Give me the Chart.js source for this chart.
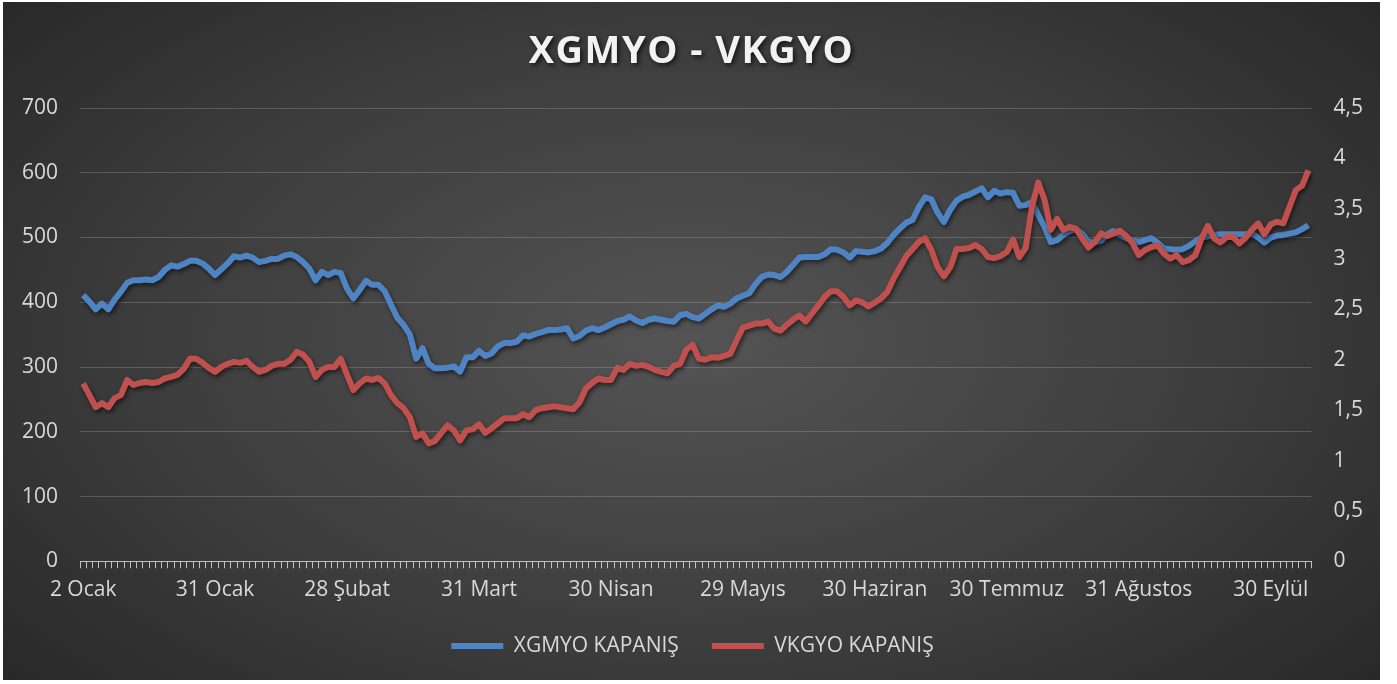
<!DOCTYPE html>
<html>
<head>
<meta charset="utf-8">
<title>XGMYO - VKGYO</title>
<script src="https://cdn.jsdelivr.net/npm/chart.js@4.4.1/dist/chart.umd.min.js"></script>
<style>
    html, body { margin: 0; padding: 0; background: #ffffff; }
    #wrap {
        position: absolute; left: 3px; top: 2px; width: 1377px; height: 678px;
        background: radial-gradient(ellipse 70% 80% at 50% 50%, #545454 0%, #3d3d3d 55%, #262626 100%);
    }
</style>
</head>
<body>
<div id="wrap"><canvas id="chart"></canvas></div>
<script>
const chartTitle = 'XGMYO - VKGYO';

// Axis labels shown under the x axis, one every 21 trading days
const tickLabels = ['2 Ocak', '31 Ocak', '28 Şubat', '31 Mart', '30 Nisan', '29 Mayıs', '30 Haziran', '30 Temmuz', '31 Ağustos', '30 Eylül'];
const labelEvery = 21;

// XGMYO closing values (left axis)
const xgmyo = [
    411, 401, 389, 398, 389, 404, 416, 430, 434, 434, 435, 434, 439, 450, 457, 455, 459, 464, 464, 460,
    452, 442, 451, 460, 471, 469, 472, 469, 462, 464, 467, 467, 472, 474, 470, 462, 452, 434, 447, 442,
    447, 445, 421, 406, 419, 433, 427, 427, 417, 396, 376, 365, 350, 313, 329, 305, 298, 298, 299, 301,
    293, 315, 315, 325, 317, 321, 332, 337, 337, 339, 349, 347, 351, 354, 357, 357, 358, 360, 344, 348,
    356, 360, 357, 361, 366, 371, 373, 378, 372, 368, 373, 375, 373, 371, 370, 380, 382, 377, 375, 382,
    389, 395, 393, 398, 406, 410, 414, 428, 439, 443, 442, 439, 447, 458, 469, 470, 470, 470, 474, 482,
    481, 477, 469, 479, 478, 477, 479, 483, 492, 504, 514, 523, 527, 547, 562, 559, 538, 524, 543, 557,
    563, 566, 571, 576, 562, 572, 568, 570, 569, 549, 550, 555, 535, 517, 493, 496, 504, 510, 513, 506,
    493, 492, 495, 505, 510, 504, 499, 496, 493, 496, 499, 492, 483, 482, 481, 482, 487, 494, 500, 502,
    504, 505, 505, 505, 505, 505, 506, 500, 492, 500, 503, 504, 506, 508, 513, 519
];

// VKGYO closing values (right axis)
const vkgyo = [
    1.765, 1.65, 1.53, 1.57, 1.53, 1.62, 1.65, 1.80, 1.75, 1.77, 1.78, 1.77, 1.78, 1.815, 1.83, 1.85, 1.91, 2.01, 2.01, 1.97,
    1.92, 1.88, 1.93, 1.96, 1.98, 1.97, 1.99, 1.93, 1.88, 1.90, 1.94, 1.96, 1.96, 2.00, 2.08, 2.05, 1.98, 1.83, 1.90, 1.93,
    1.93, 2.01, 1.85, 1.70, 1.765, 1.815, 1.80, 1.82, 1.765, 1.65, 1.57, 1.52, 1.43, 1.235, 1.27, 1.17, 1.195, 1.275, 1.35, 1.30,
    1.20, 1.30, 1.31, 1.36, 1.275, 1.32, 1.37, 1.42, 1.42, 1.42, 1.46, 1.43, 1.50, 1.52, 1.53, 1.54, 1.53, 1.52, 1.51, 1.58,
    1.715, 1.77, 1.815, 1.80, 1.80, 1.92, 1.90, 1.96, 1.94, 1.95, 1.93, 1.90, 1.88, 1.865, 1.94, 1.96, 2.10, 2.15, 2.01, 2.00,
    2.025, 2.02, 2.04, 2.06, 2.195, 2.32, 2.34, 2.36, 2.36, 2.38, 2.31, 2.29, 2.35, 2.40, 2.44, 2.38, 2.46, 2.54, 2.625, 2.68,
    2.68, 2.625, 2.54, 2.59, 2.57, 2.53, 2.57, 2.61, 2.675, 2.81, 2.92, 3.03, 3.10, 3.17, 3.205, 3.09, 2.92, 2.83, 2.92, 3.10,
    3.10, 3.11, 3.14, 3.10, 3.02, 3.01, 3.03, 3.07, 3.195, 3.02, 3.11, 3.52, 3.76, 3.59, 3.29, 3.40, 3.29, 3.32, 3.30, 3.205,
    3.115, 3.17, 3.255, 3.23, 3.255, 3.28, 3.23, 3.16, 3.04, 3.09, 3.12, 3.135, 3.055, 3.005, 3.04, 2.97, 2.99, 3.04, 3.205, 3.33,
    3.205, 3.165, 3.22, 3.22, 3.155, 3.21, 3.29, 3.355, 3.245, 3.345, 3.37, 3.355, 3.52, 3.685, 3.73, 3.88
];

const categories = xgmyo.map((v, i) => (i % labelEvery === 0 ? tickLabels[i / labelEvery] || '' : ''));

const textColor = '#d9d9d9';
Chart.defaults.font.family = "'Open Sans', sans-serif";

// soft drop shadow under the two lines
const lineShadow = {
    id: 'lineShadow',
    beforeDatasetsDraw(chart) {
        const ctx = chart.ctx;
        ctx.save();
        ctx.shadowColor = 'rgba(0, 0, 0, 0.55)';
        ctx.shadowBlur = 4;
        ctx.shadowOffsetX = 1.5;
        ctx.shadowOffsetY = 2.5;
    },
    afterDatasetsDraw(chart) {
        chart.ctx.restore();
    }
};

// title with a shadow, drawn in the space kept free by layout.padding.top
const shadowTitle = {
    id: 'shadowTitle',
    afterDraw(chart) {
        const ctx = chart.ctx;
        ctx.save();
        ctx.font = "bold 38px 'Open Sans', sans-serif";
        if ('letterSpacing' in ctx) ctx.letterSpacing = '1.5px';
        ctx.fillStyle = '#f2f2f2';
        ctx.textAlign = 'center';
        ctx.textBaseline = 'alphabetic';
        ctx.shadowColor = 'rgba(0, 0, 0, 0.7)';
        ctx.shadowBlur = 5;
        ctx.shadowOffsetX = 2;
        ctx.shadowOffsetY = 2;
        ctx.fillText(chartTitle, chart.width / 2, 61);
        ctx.restore();
    }
};

// chart.js keeps tick padding on both sides of the labels, drop the outer one
function trimWidth(scale) {
    scale.width -= scale.options.ticks.padding;
}
function trimHeight(scale) {
    scale.height -= scale.options.ticks.padding;
}

new Chart(document.getElementById('chart'), {
    type: 'line',
    data: {
        labels: categories,
        datasets: [{
            label: 'XGMYO KAPANIŞ',
            data: xgmyo,
            yAxisID: 'y',
            borderColor: '#4e84c4',
            backgroundColor: '#4e84c4',
            borderWidth: 6,
            pointRadius: 0,
            tension: 0,
            borderJoinStyle: 'round',
            order: 1
        }, {
            label: 'VKGYO KAPANIŞ',
            data: vkgyo,
            yAxisID: 'y1',
            borderColor: '#c0504d',
            backgroundColor: '#c0504d',
            borderWidth: 6,
            pointRadius: 0,
            tension: 0,
            borderJoinStyle: 'round',
            order: 0
        }]
    },
    options: {
        responsive: true,
        maintainAspectRatio: false,
        animation: false,
        layout: {
            padding: { top: 106, left: 19, right: 17, bottom: 13.5 }
        },
        plugins: {
            title: { display: false },
            tooltip: { enabled: false },
            legend: {
                position: 'bottom',
                labels: {
                    usePointStyle: true,
                    pointStyle: 'line',
                    pointStyleWidth: 52,
                    padding: 33,
                    color: textColor,
                    font: { size: 21 },
                    sort: (a, b) => a.datasetIndex - b.datasetIndex
                }
            }
        },
        scales: {
            x: {
                offset: true,
                afterFit: trimHeight,
                grid: {
                    offset: true,
                    drawOnChartArea: false,
                    drawTicks: true,
                    tickLength: 7,
                    tickColor: 'rgba(217, 217, 217, 0.85)'
                },
                border: { display: true, color: '#bfbfbf', width: 1 },
                ticks: {
                    autoSkip: false,
                    maxRotation: 0,
                    minRotation: 0,
                    padding: 9,
                    color: textColor,
                    font: { size: 21 },
                    callback: function (value, index) {
                        return categories[index];
                    }
                }
            },
            y: {
                position: 'left',
                min: 0,
                max: 700,
                afterFit: trimWidth,
                ticks: { stepSize: 100, padding: 22, color: textColor, font: { size: 21 } },
                grid: { color: 'rgba(217, 217, 217, 0.22)', drawTicks: false },
                border: { display: false }
            },
            y1: {
                position: 'right',
                min: 0,
                max: 4.5,
                afterFit: trimWidth,
                ticks: {
                    stepSize: 0.5,
                    padding: 22,
                    color: textColor,
                    font: { size: 21 },
                    callback: function (value) {
                        return String(value).replace('.', ',');
                    }
                },
                grid: { drawOnChartArea: false, drawTicks: false },
                border: { display: false }
            }
        }
    },
    plugins: [lineShadow, shadowTitle]
});
</script>
</body>
</html>
